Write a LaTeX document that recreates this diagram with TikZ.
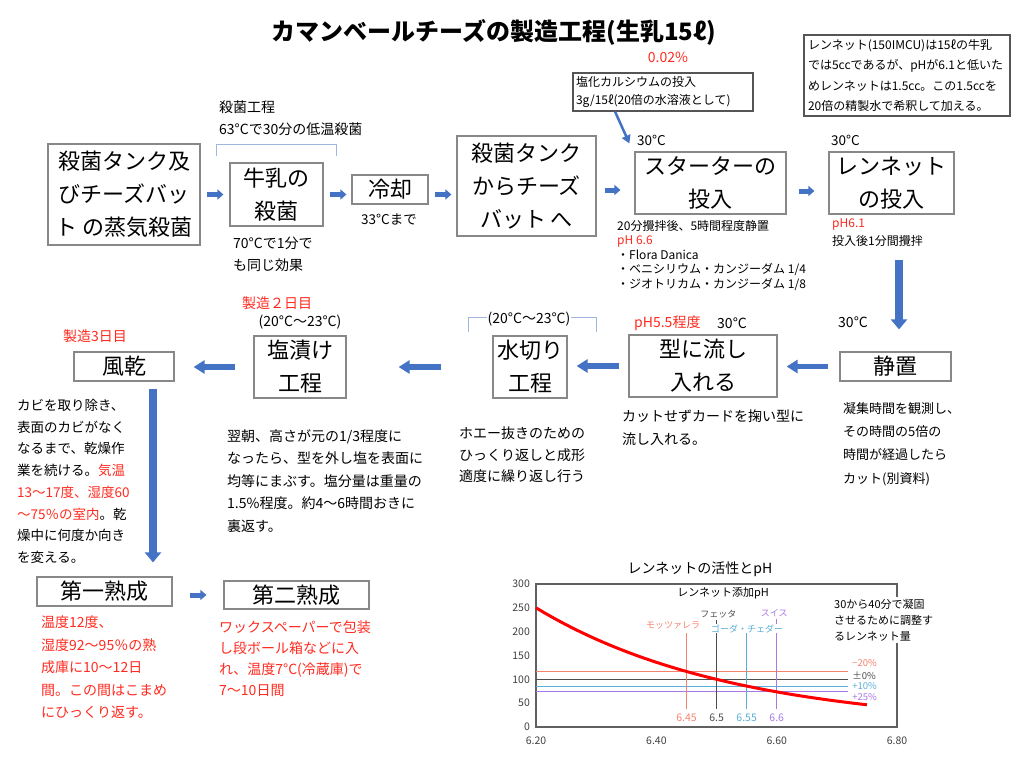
\documentclass[tikz,border=0pt]{standalone}
\usepackage{fontspec}
\setmainfont{Noto Sans CJK JP}
\usetikzlibrary{arrows.meta}
\definecolor{arrowblue}{HTML}{4472C4}
\definecolor{bracketblue}{HTML}{9FB6E0}
\definecolor{boxgray}{HTML}{888888}
\definecolor{memogray}{HTML}{555555}
\definecolor{warnred}{HTML}{FF2A1F}
\definecolor{salmon}{HTML}{F4826E}
\definecolor{fetagray}{HTML}{4D4D4D}
\definecolor{goudablue}{HTML}{5AAED6}
\definecolor{swisspurple}{HTML}{A878E6}
\definecolor{axisgray}{HTML}{606060}

\begin{document}
\begin{tikzpicture}[x=1pt,y=-1pt,
 box/.style={draw=boxgray,line width=1.2pt,align=center,inner sep=0pt,font=\fontsize{22}{33}\selectfont},
 memo/.style={draw=memogray,line width=1.1pt,align=left,inner ysep=0pt,font=\fontsize{12}{18}\selectfont},
 txt/.style={anchor=north west,align=left,inner sep=0pt,font=\fontsize{14}{21.5}\selectfont},
 lbl/.style={inner sep=0pt,font=\fontsize{14}{16}\selectfont},
 flow/.style={draw=arrowblue,line width=5pt,-{Triangle[length=6pt,width=10pt]}},
 flowl/.style={draw=arrowblue,line width=5.5pt,-{Triangle[length=11pt,width=13pt]}},
 flowv/.style={draw=arrowblue,line width=7.5pt,-{Triangle[length=10pt,width=16pt]}},
 callout/.style={draw=arrowblue,line width=2.5pt,-{Triangle[length=8pt,width=9pt]}},
 brace/.style={draw=bracketblue,line width=0.8pt},
 ticklab/.style={inner sep=0pt,text=black!75,font=\fontsize{10.5}{12}\selectfont},
 chartlab/.style={inner sep=0pt,font=\fontsize{9}{10}\selectfont},
 pctlab/.style={inner sep=0pt,anchor=west,font=\fontsize{9.5}{10}\selectfont}]
\useasboundingbox (0,0) rectangle (1024,770);
%title
\node[font=\bfseries\fontsize{24}{28}\selectfont] (title) at (494,32){カマンベールチーズの製造工程(生乳15ℓ)};
\node[lbl,text=warnred] (calpct) at (668,57){0.02\%};
\node[memo,text width=174pt,minimum height=38pt,inner xsep=3pt] (calcium) at (663,92){塩化カルシウムの投入\\3g/15ℓ(20倍の水溶液として)};
\node[memo,text width=198pt,minimum height=81pt,inner xsep=4pt,font=\fontsize{12}{20.3}\selectfont] (renmemo) at (907,75.5){レンネット(150IMCU)は15ℓの牛乳\\では5ccであるが、pHが6.1と低いた\\めレンネットは1.5cc。この1.5ccを\\20倍の精製水で希釈して加える。};
%day 1
\node[box,minimum width=152pt,minimum height=101pt] (sakkinA) at (124,194.5){殺菌タンク及\\びチーズバッ\\ト の蒸気殺菌};
\node[box,minimum width=93pt,minimum height=63pt] (gyunyu) at (276.5,194.5){牛乳の\\殺菌};
\node[box,minimum width=76pt,minimum height=29pt] (reikyaku) at (390,189.5){冷却};
\node[box,minimum width=139pt,minimum height=100pt] (sakkinD) at (526.5,186){殺菌タンク\\からチーズ\\バット へ};
\node[box,minimum width=151pt,minimum height=62pt] (starter) at (710.5,183){スターターの\\投入};
\node[box,minimum width=125pt,minimum height=62pt] (renF) at (891.5,183){レンネット\\の投入};
\node[txt] (sakkinproc) at (219,101){殺菌工程\\63°Cで30分の低温殺菌};
\draw[brace] ([xshift=-13pt,yshift=6pt]gyunyu.north west) |- ([yshift=18pt]gyunyu.north) -| ([xshift=13pt,yshift=6pt]gyunyu.north east);
\node[txt] (gyunyunote) at (233,237){70°Cで1分で\\も同じ効果};
\node[lbl,font=\fontsize{13.5}{16}\selectfont] (reikyakunote) at (389,219){33°Cまで};
\node[lbl,anchor=west,font=\fontsize{13.5}{16}\selectfont] (tempE) at (637,140){30°C};
\node[lbl,anchor=west,font=\fontsize{13.5}{16}\selectfont] (tempF) at (831,140){30°C};
\node[txt,font=\fontsize{12}{14.5}\selectfont] (starternote) at (617,220){20分攪拌後、5時間程度静置\\\textcolor{warnred}{pH 6.6}\\・Flora Danica\\・ベニシリウム・カンジーダム 1/4\\・ジオトリカム・カンジーダム 1/8};
\node[txt,font=\fontsize{12}{18}\selectfont] (rennote) at (832,219){\textcolor{warnred}{pH6.1}\\投入後1分間攪拌};
\draw[flow,shorten <=6pt,shorten >=6pt] (sakkinA.east) -- (sakkinA.east -| gyunyu.west);
\draw[flow,shorten <=6pt,shorten >=5pt] (gyunyu.east) -- (gyunyu.east -| reikyaku.west);
\draw[flow,shorten <=6pt,shorten >=5pt] (reikyaku.east |- gyunyu.east) -- (gyunyu.east -| sakkinD.west);
\draw[flow,shorten <=8pt,shorten >=14pt] ([yshift=-4pt]sakkinD.east) -- ([yshift=-4pt]sakkinD.east -| starter.west);
\draw[flow,shorten <=12pt,shorten >=14pt] ([yshift=-8pt]starter.east) -- ([yshift=-8pt]starter.east -| renF.west);
\draw[callout] ([xshift=-48pt]calcium.south) -- ([xshift=-5pt,yshift=8pt]starter.north west);
%day 2
\node[box,minimum width=111pt,minimum height=29pt] (seichi) at (895.5,366.5){静置};
\node[box,minimum width=148pt,minimum height=62pt] (kata) at (703,366){型に流し\\入れる};
\node[box,minimum width=74pt,minimum height=62pt] (mizukiri) at (530,367){水切り\\工程};
\node[box,minimum width=92pt,minimum height=62pt] (shiozuke) at (300,367){塩漬け\\工程};
\node[box,minimum width=100pt,minimum height=29pt] (fuukan) at (124,366.5){風乾};
\draw[flowv,shorten <=45pt,shorten >=22pt] ([xshift=3.5pt]seichi.north |- renF.south) -- ([xshift=3.5pt]seichi.north);
\draw[flowl,shorten <=11pt,shorten >=9pt] (seichi.west) -- (seichi.west -| kata.east);
\draw[flowl,shorten <=9pt,shorten >=9pt] (kata.west) -- (kata.west -| mizukiri.east);
\draw[flowl,shorten <=51pt,shorten >=52pt] (mizukiri.west) -- (mizukiri.west -| shiozuke.east);
\draw[flowl,shorten <=18pt,shorten >=19pt] (shiozuke.west) -- (shiozuke.west -| fuukan.east);
\draw[brace] ([xshift=-24pt,yshift=3pt]mizukiri.north west) |- ([yshift=18pt]mizukiri.north) -| ([xshift=29pt,yshift=3pt]mizukiri.north east);
\node[lbl,fill=white,inner sep=0.5pt] (mizutemp) at (529,319){(20°C〜23°C)};
\node[lbl] (shiotemp) at (300,322){(20°C〜23°C)};
\node[lbl,anchor=west,text=warnred] (day2) at (242,303){製造２日目};
\node[lbl,anchor=west,text=warnred] (ph55) at (634,323){pH5.5程度};
\node[lbl,anchor=west] (tempkata) at (717,323){30°C};
\node[lbl,anchor=west] (tempseichi) at (838,322){30°C};
\node[lbl,anchor=west,text=warnred] (day3) at (63,336){製造3日目};
\node[txt,font=\fontsize{13}{23.3}\selectfont] (seichinote) at (843,402){凝集時間を観測し、\\その時間の5倍の\\時間が経過したら\\カット(別資料)};
\node[txt,font=\fontsize{14}{23}\selectfont] (katanote) at (622,410){カットせずカードを掬い型に\\流し入れる。};
\node[txt] (mizukirinote) at (459,427){ホエー抜きのための\\ひっくり返しと成形\\適度に繰り返し行う};
\node[txt,font=\fontsize{14}{22.5}\selectfont] (shiozukenote) at (227,429){翌朝、高さが元の1/3程度に\\なったら、型を外し塩を表面に\\均等にまぶす。塩分量は重量の\\1.5\%程度。約4〜6時間おきに\\裏返す。};
\node[txt,font=\fontsize{13.5}{21.7}\selectfont] (fuukannote) at (17,399){カビを取り除き、\\表面のカビがなく\\なるまで、乾燥作\\業を続ける。\textcolor{warnred}{気温}\\\textcolor{warnred}{13〜17度、湿度60}\\\textcolor{warnred}{〜75％の室内}。乾\\燥中に何度か向き\\を変える。};
%day 3
\node[box,minimum width=135pt,minimum height=29pt] (jukusei1) at (104.5,591.5){第一熟成};
\node[box,minimum width=145pt,minimum height=28pt] (jukusei2) at (296.5,595){第二熟成};
\draw[flowv,shorten <=7pt,shorten >=14pt] ([xshift=29pt]fuukan.south) -- ([xshift=29pt]fuukan.south |- jukusei1.north);
\draw[flow,shorten <=17pt,shorten >=17pt] (jukusei2.west -| jukusei1.east) -- (jukusei2.west);
\node[txt,text=warnred,font=\fontsize{14}{22.5}\selectfont] (juku1note) at (41,616){温度12度、\\湿度92〜95％の熟\\成庫に10〜12日\\間。この間はこまめ\\にひっくり返す。};
\node[txt,text=warnred,font=\fontsize{14}{21.3}\selectfont] (juku2note) at (219,620){ワックスペーパーで包装\\し段ボール箱などに入\\れ、温度7°C(冷蔵庫)で\\7〜10日間};
%chart
\node[lbl] (charttitle) at (700,569){レンネットの活性とpH};
\begin{scope}[xshift=-3194.5pt,yshift=-727pt,x=601.7pt,y=0.4767pt]
\draw[axisgray,line width=1.2pt] (6.2,0) rectangle (6.8,300);
\foreach \v in {0,50,...,300}
  \node[ticklab,anchor=east,xshift=-6pt] at (6.2,\v){\v};
\foreach \p in {6.20,6.40,6.60,6.80}
  \node[ticklab,anchor=north,yshift=-10pt] at (\p,0){\p};
\foreach \v/\c in {116/salmon,100/fetagray,86/goudablue,74/swisspurple}
  \draw[\c,line width=1pt] (6.2,\v) -- (6.7185,\v);
\foreach \p/\t/\c in {6.45/197/salmon,6.5/224/fetagray,6.55/197/goudablue,6.6/227/swisspurple}
  \draw[\c,line width=1pt] (\p,38) -- (\p,\t);
\draw[red,line width=3pt] plot[domain=6.2:6.75,samples=40] (\x,{100*exp(-3.054*(\x-6.5))});
\node[chartlab,font=\fontsize{11}{12}\selectfont] (addph) at (6.511,281){レンネット添加pH};
\node[chartlab,text=salmon] (mozza) at (6.428,214){モッツァレラ};
\node[chartlab,text=fetagray] (feta) at (6.503,237){フェッタ};
\node[chartlab,text=goudablue,fill=white,inner sep=0.5pt] (gouda) at (6.551,206){ゴーダ・チェダー};
\node[chartlab,text=swisspurple] (swiss) at (6.596,239){スイス};
\foreach \p/\c in {6.45/salmon,6.5/fetagray,6.55/goudablue,6.6/swisspurple}
  \node[ticklab,text=\c] at (\p,19){\p};
\node[pctlab,text=salmon] (pctm20) at (6.7252,134){−20\%};
\node[pctlab,text=fetagray] (pct0) at (6.7252,108){±0\%};
\node[pctlab,text=goudablue] (pct10) at (6.7252,86){+10\%};
\node[pctlab,text=swisspurple] (pct25) at (6.7252,63){+25\%};
\end{scope}
\node[anchor=north west,align=left,fill=white,inner sep=2pt,font=\fontsize{11}{16}\selectfont] (rennetqty) at (832,597){30から40分で凝固\\させるために調整す\\るレンネット量};
\end{tikzpicture}
\end{document}
